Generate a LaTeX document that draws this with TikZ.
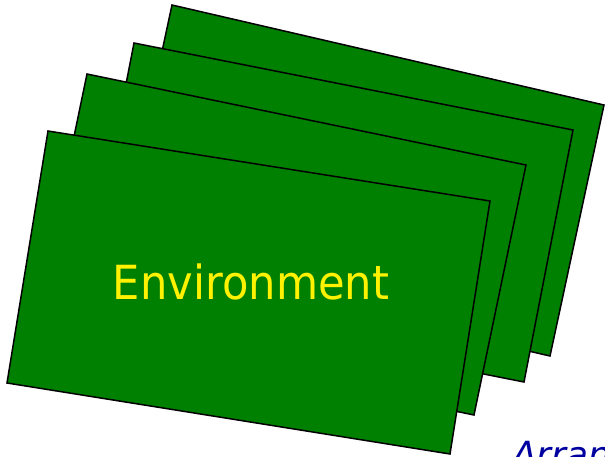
\documentclass[tikz,border=0pt]{standalone}
\usepackage{fontspec}
\newfontfamily\cardfont{DejaVu Sans}
\definecolor{cardgreen}{RGB}{0,128,0}
\definecolor{labelblue}{RGB}{0,0,160}

\begin{document}
\begin{tikzpicture}[x=1pt,y=-1pt,
  card/.style={fill=cardgreen, draw=black, line width=1.5pt, line join=miter},
  cardlabel/.style={font={\cardfont\fontsize{47}{47}\selectfont}, text=yellow, anchor=base, inner sep=0pt, xscale=0.92},
  sidelabel/.style={font={\cardfont\itshape\fontsize{36}{36}\selectfont}, text=labelblue, anchor=base west, inner sep=0pt}]
\useasboundingbox (0,0) rectangle (605,456);
\clip (0,0) rectangle (605,456);
\draw[card] (172,5) -- (604,105) -- (550,356) -- (118,256) -- cycle;
\draw[card] (134,43) -- (573,130) -- (524,382) -- (85,295) -- cycle;
\draw[card] (87,74) -- (526,165) -- (474,415) -- (35,324) -- cycle;
\draw[card] (48,131) -- (490,201) -- (450,454) -- (7,383) -- cycle;
\node[cardlabel] (env) at (251,299) {Environment};
\node[sidelabel] (arr) at (512,467) {Arran};
\end{tikzpicture}
\end{document}
